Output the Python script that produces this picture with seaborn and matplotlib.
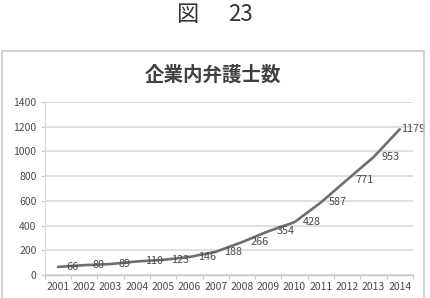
import matplotlib
matplotlib.use("Agg")
import matplotlib.pyplot as plt
import matplotlib.patches as patches
import seaborn as sns
import pandas as pd
import numpy as np

years = ["2001", "2002", "2003", "2004", "2005", "2006", "2007",
         "2008", "2009", "2010", "2011", "2012", "2013", "2014"]
counts = [66, 80, 89, 110, 123, 146, 188, 266, 354, 428, 587, 771, 953, 1179]
y_ticks = [0, 200, 400, 600, 800, 1000, 1200, 1400]
title = "企業内弁護士数"
fig_char = "図"
fig_num = "23"

sns.set_theme(style="white")
plt.rcParams['font.family'] = ['Noto Sans CJK JP', 'DejaVu Sans']

df = pd.DataFrame({"idx": np.arange(len(years)), "year": years, "count": counts})

fig = plt.figure(figsize=(4.31, 2.98), dpi=100)
ax = fig.add_axes([0.104, 0.077, 0.854, 0.581])

sns.lineplot(data=df, x="idx", y="count", ax=ax, color="#6e6e6e", linewidth=1.9)

n = len(df)
for k, (i, v) in enumerate(zip(df["idx"], df["count"])):
    dx = 1 if k == n - 1 else 6
    ax.annotate(str(v), (i, v), xytext=(dx, 0), textcoords="offset points",
                ha="left", va="center", fontsize=7.8, color="#4a4a4a",
                annotation_clip=False)

ax.set_xlim(-0.5, len(years) - 0.5)
ax.set_ylim(0, 1400)
ax.set_yticks(y_ticks)
ax.set_yticklabels([str(t) for t in y_ticks], fontsize=7.5, color="#4a4a4a")
ax.set_xticks(df["idx"])
ax.set_xticklabels(years, fontsize=7.5, color="#4a4a4a")
ax.set_xticks(np.arange(-0.5, len(years), 1.0), minor=True)
ax.tick_params(axis="x", which="major", length=0, pad=5)
ax.tick_params(axis="x", which="minor", length=3, color="#c8c8c8", width=0.8, bottom=True)
ax.tick_params(axis="y", which="major", length=3, color="#c8c8c8", width=0.8, left=True, pad=3)
ax.set_xlabel("")
ax.set_ylabel("")
ax.yaxis.grid(True, color="#d9d9d9", linewidth=1.2)
ax.set_axisbelow(True)
for s in ["top", "right"]:
    ax.spines[s].set_visible(False)
ax.spines["left"].set_color("#d9d9d9")
ax.spines["left"].set_linewidth(0.8)
ax.spines["bottom"].set_color("#c8c8c8")
ax.spines["bottom"].set_linewidth(1.0)

fig.text(0.495, 0.748, title, ha="center", va="center", fontsize=14,
         fontweight="bold", color="#404040")
fig.text(0.434, 0.95, fig_char, ha="center", va="center", fontsize=16,
         color="#333333")
fig.text(0.558, 0.95, fig_num, ha="center", va="center", fontsize=16,
         color="#333333")

rect = patches.Rectangle((0.004, -0.02), 0.98, 0.849, transform=fig.transFigure,
                         fill=False, edgecolor="#c8c8c8", linewidth=1.2)
fig.patches.append(rect)

fig.savefig("out.png", dpi=100)
